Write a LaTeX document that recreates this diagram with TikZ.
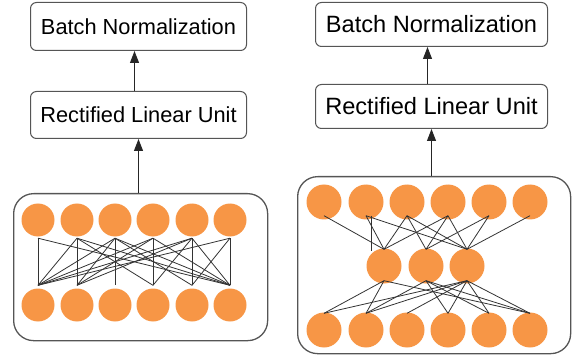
\documentclass[tikz,border=0pt]{standalone}
\usepackage{fontspec}
\setmainfont{Liberation Sans}
\usetikzlibrary{arrows.meta}
\definecolor{unitorange}{RGB}{247,150,70}
\definecolor{framegray}{RGB}{85,85,85}
\tikzset{
  layerbox/.style={draw=framegray, line width=1pt, rounded corners=6pt, fill=white,
                   minimum height=#1, inner sep=0pt, anchor=north west},
  panel/.style={draw=framegray, line width=1.3pt, rounded corners=20pt, anchor=north west, inner sep=0pt},
  unit/.style={circle, fill=unitorange, draw=none, minimum size=33pt, inner sep=0pt},
  link/.style={draw=black!80, line width=0.8pt},
  flow/.style={draw=black!85, line width=1pt, -{Triangle[width=9pt,length=12pt]}},
}
\begin{document}
\begin{tikzpicture}[x=1pt,y=-1pt]
\useasboundingbox (0,0) rectangle (572,355);

% ---------- left block: fully connected layer ----------
\node[panel, minimum width=254pt, minimum height=147pt] (lpanel) at (13,193) {};
\node[layerbox=48pt, minimum width=216pt] (lbn) at (30,2)
  {\fontsize{21.8}{26}\selectfont Batch Normalization};
\node[layerbox=47pt, minimum width=216pt] (lrelu) at (30,91)
  {\fontsize{21.8}{26}\selectfont Rectified Linear Unit};

\foreach \i/\x in {1/38,2/77,3/115,4/153,5/192,6/230}{
  \node[unit] (lt\i) at (\x,220) {};
  \node[unit] (lb\i) at (\x,305) {};
}
\foreach \a/\b in {1/1,1/6,
                   2/1,2/2,2/4,2/6,
                   3/1,3/2,3/3,3/5,3/6,
                   4/1,4/2,4/4,4/6,
                   5/1,5/2,5/4,5/5,5/6,
                   6/1,6/5,6/6}{
  \draw[link] ([yshift=-1.5pt]lt\a.south) -- ([yshift=3pt]lb\b.north);
}
\draw[flow] (lpanel.north -| lrelu.south) -- (lrelu.south);
\draw[flow] ([xshift=-4pt]lrelu.north) -- ([xshift=-4pt]lbn.south);

% ---------- right block: bottleneck layer ----------
\node[panel, minimum width=273pt, minimum height=177pt] (rpanel) at (297,176) {};
\node[layerbox=44pt, minimum width=232pt] (rbn) at (315,2)
  {\fontsize{23.6}{28}\selectfont Batch Normalization};
\node[layerbox=44pt, minimum width=232pt] (rrelu) at (315,84)
  {\fontsize{23.6}{28}\selectfont Rectified Linear Unit};

\foreach \i/\x in {1/324,2/366,3/407,4/448,5/489,6/530}{
  \node[unit, minimum size=35pt] (rt\i) at (\x,202) {};
  \node[unit, minimum size=35pt] (rb\i) at (\x,330) {};
}
\foreach \i/\x in {1/384,2/426,3/467}{
  \node[unit, minimum size=35pt] (rm\i) at (\x,266) {};
}
% top row into the narrow middle row
\foreach \a/\b in {1/1,2/1,2/3,3/1,3/2,3/3,4/1,4/2,4/3,5/2,5/3,6/3}{
  \draw[link] ([yshift=4pt]rt\a.south) -- ([yshift=-1pt]rm\b.north);
}
\draw[link] ([xshift=5pt,yshift=4pt]rt2.south) -- ([xshift=5pt,yshift=-3pt]rt2.south |- rm1.north);
% middle row out to the bottom row
\foreach \a/\b in {1/1,1/2,1/6,2/2,2/4,2/5,2/6,3/1,3/2,3/3,3/4,3/5,3/6}{
  \draw[link] ([yshift=3pt]rm\a.south) -- ([yshift=-1pt]rb\b.north);
}
\draw[flow] (rpanel.north -| rrelu.south) -- (rrelu.south);
\draw[flow] ([xshift=-4pt]rrelu.north) -- ([xshift=-4pt]rbn.south);
\end{tikzpicture}
\end{document}
